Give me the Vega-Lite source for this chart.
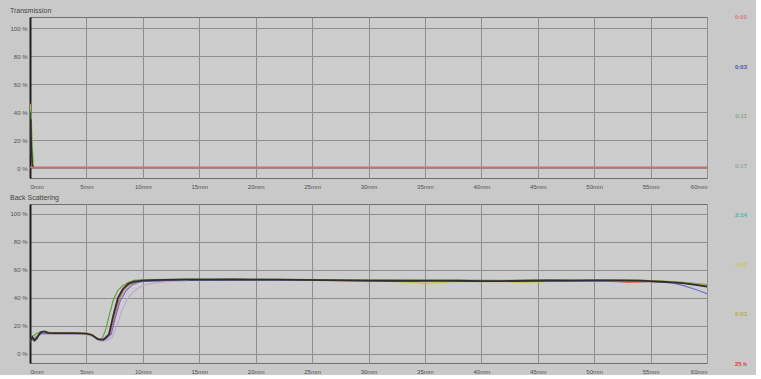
{
  "$schema": "https://vega.github.io/schema/vega-lite/v6.json",
  "background": "#c9c9c9",
  "padding": {"left": 9, "top": 6, "right": 0, "bottom": 0},
  "resolve": {"scale": {"color": "independent"}},
  "spacing": 18,
  "config": {
    "font": "Liberation Sans",
    "view": {"fill": "#cdcdcd", "stroke": "#707070", "strokeWidth": 1},
    "axis": {"labelFontSize": 6, "labelColor": "#505050", "ticks": false, "gridColor": "#8e8e8e", "gridWidth": 1, "domain": false, "title": null, "labelOverlap": false},
    "axisY": {"domain": true, "domainColor": "#1e1e1e", "domainWidth": 2, "labelPadding": 3},
    "axisX": {"labelPadding": 5},
    "title": {"fontSize": 7, "color": "#454545", "anchor": "start", "offset": 3, "fontWeight": "normal"}
  },
  "datasets": {
    "curves": [
      {"p":"T","s":"r","x":0,"y":0.6},{"p":"T","s":"r","x":10,"y":0.6},{"p":"T","s":"r","x":20,"y":0.6},{"p":"T","s":"r","x":30,"y":0.6},{"p":"T","s":"r","x":40,"y":0.6},{"p":"T","s":"r","x":50,"y":0.6},{"p":"T","s":"r","x":60,"y":0.6},
      {"p":"T","s":"y","x":0,"y":46},{"p":"T","s":"y","x":0.05,"y":38},{"p":"T","s":"y","x":0.12,"y":25},{"p":"T","s":"y","x":0.2,"y":10},{"p":"T","s":"y","x":0.3,"y":2},
      {"p":"T","s":"g","x":0,"y":30},{"p":"T","s":"g","x":0.08,"y":42},{"p":"T","s":"g","x":0.15,"y":20},{"p":"T","s":"g","x":0.25,"y":4},
      {"p":"T","s":"k","x":0,"y":40},{"p":"T","s":"k","x":0.04,"y":10},{"p":"T","s":"k","x":0.08,"y":35},{"p":"T","s":"k","x":0.12,"y":15},{"p":"T","s":"k","x":0.2,"y":3},{"p":"T","s":"k","x":0.3,"y":1},

      {"p":"B","s":"k","x":0,"y":9},{"p":"B","s":"k","x":0.2,"y":12},{"p":"B","s":"k","x":0.4,"y":9.5},{"p":"B","s":"k","x":0.6,"y":11},{"p":"B","s":"k","x":0.8,"y":14},{"p":"B","s":"k","x":1,"y":15.5},{"p":"B","s":"k","x":1.3,"y":16},{"p":"B","s":"k","x":1.6,"y":15},{"p":"B","s":"k","x":2,"y":14.8},{"p":"B","s":"k","x":3,"y":14.8},{"p":"B","s":"k","x":4,"y":14.8},{"p":"B","s":"k","x":5,"y":14.5},{"p":"B","s":"k","x":5.5,"y":13.5},{"p":"B","s":"k","x":6,"y":10.5},{"p":"B","s":"k","x":6.5,"y":10},{"p":"B","s":"k","x":7,"y":14},{"p":"B","s":"k","x":7.4,"y":28},{"p":"B","s":"k","x":7.8,"y":40},{"p":"B","s":"k","x":8.2,"y":46},{"p":"B","s":"k","x":8.7,"y":50},{"p":"B","s":"k","x":9.2,"y":51.5},{"p":"B","s":"k","x":9.6,"y":52},{"p":"B","s":"k","x":10,"y":52.3},{"p":"B","s":"k","x":11,"y":52.6},{"p":"B","s":"k","x":12,"y":52.8},{"p":"B","s":"k","x":14,"y":53},{"p":"B","s":"k","x":16,"y":53},{"p":"B","s":"k","x":18,"y":53.1},{"p":"B","s":"k","x":20,"y":53},{"p":"B","s":"k","x":22,"y":53},{"p":"B","s":"k","x":24,"y":52.8},{"p":"B","s":"k","x":26,"y":52.7},{"p":"B","s":"k","x":28,"y":52.5},{"p":"B","s":"k","x":30,"y":52.3},{"p":"B","s":"k","x":32,"y":52.2},{"p":"B","s":"k","x":34,"y":52.2},{"p":"B","s":"k","x":36,"y":52.3},{"p":"B","s":"k","x":38,"y":52.2},{"p":"B","s":"k","x":40,"y":52},{"p":"B","s":"k","x":42,"y":52},{"p":"B","s":"k","x":44,"y":52.2},{"p":"B","s":"k","x":46,"y":52.4},{"p":"B","s":"k","x":48,"y":52.3},{"p":"B","s":"k","x":50,"y":52.5},{"p":"B","s":"k","x":52,"y":52.5},{"p":"B","s":"k","x":54,"y":52.3},{"p":"B","s":"k","x":55,"y":52},{"p":"B","s":"k","x":56,"y":51.5},{"p":"B","s":"k","x":57,"y":51},{"p":"B","s":"k","x":58,"y":50.3},{"p":"B","s":"k","x":59,"y":49.3},{"p":"B","s":"k","x":60,"y":48},

      {"p":"B","s":"g","x":0,"y":10},{"p":"B","s":"g","x":0.3,"y":13},{"p":"B","s":"g","x":0.6,"y":14.5},{"p":"B","s":"g","x":1,"y":16},{"p":"B","s":"g","x":1.5,"y":15.5},{"p":"B","s":"g","x":2,"y":15},{"p":"B","s":"g","x":4,"y":15},{"p":"B","s":"g","x":5,"y":14.8},{"p":"B","s":"g","x":5.5,"y":13.5},{"p":"B","s":"g","x":6,"y":11},{"p":"B","s":"g","x":6.4,"y":11},{"p":"B","s":"g","x":6.7,"y":17},{"p":"B","s":"g","x":7,"y":27},{"p":"B","s":"g","x":7.4,"y":39},{"p":"B","s":"g","x":7.8,"y":45.5},{"p":"B","s":"g","x":8.2,"y":48.5},{"p":"B","s":"g","x":8.7,"y":51},{"p":"B","s":"g","x":9.2,"y":52.5},{"p":"B","s":"g","x":10,"y":53},{"p":"B","s":"g","x":12,"y":53.3},{"p":"B","s":"g","x":14,"y":53.5},{"p":"B","s":"g","x":18,"y":53.4},{"p":"B","s":"g","x":22,"y":53.2},{"p":"B","s":"g","x":26,"y":53},{"p":"B","s":"g","x":30,"y":52.8},{"p":"B","s":"g","x":34,"y":52.6},{"p":"B","s":"g","x":38,"y":52.6},{"p":"B","s":"g","x":42,"y":52.5},{"p":"B","s":"g","x":46,"y":52.8},{"p":"B","s":"g","x":50,"y":52.8},{"p":"B","s":"g","x":54,"y":52.6},{"p":"B","s":"g","x":56,"y":52},{"p":"B","s":"g","x":58,"y":51},{"p":"B","s":"g","x":60,"y":49.5},

      {"p":"B","s":"y","x":0,"y":9.5},{"p":"B","s":"y","x":0.5,"y":12},{"p":"B","s":"y","x":1,"y":15},{"p":"B","s":"y","x":2,"y":15.2},{"p":"B","s":"y","x":4,"y":15.2},{"p":"B","s":"y","x":5,"y":15},{"p":"B","s":"y","x":5.5,"y":14},{"p":"B","s":"y","x":6,"y":11},{"p":"B","s":"y","x":6.6,"y":10.5},{"p":"B","s":"y","x":7.1,"y":15},{"p":"B","s":"y","x":7.5,"y":29},{"p":"B","s":"y","x":7.9,"y":40},{"p":"B","s":"y","x":8.3,"y":46},{"p":"B","s":"y","x":8.8,"y":49.5},{"p":"B","s":"y","x":9.5,"y":51.5},{"p":"B","s":"y","x":10,"y":52},{"p":"B","s":"y","x":12,"y":52.5},{"p":"B","s":"y","x":16,"y":52.8},{"p":"B","s":"y","x":20,"y":52.8},{"p":"B","s":"y","x":24,"y":52.5},{"p":"B","s":"y","x":28,"y":52.2},{"p":"B","s":"y","x":32,"y":51.8},{"p":"B","s":"y","x":34,"y":51},{"p":"B","s":"y","x":35,"y":50.3},{"p":"B","s":"y","x":36,"y":50.8},{"p":"B","s":"y","x":38,"y":51.8},{"p":"B","s":"y","x":42,"y":51.5},{"p":"B","s":"y","x":44,"y":51.2},{"p":"B","s":"y","x":46,"y":51.8},{"p":"B","s":"y","x":50,"y":52.3},{"p":"B","s":"y","x":54,"y":52.5},{"p":"B","s":"y","x":56,"y":52},{"p":"B","s":"y","x":58,"y":50.8},{"p":"B","s":"y","x":60,"y":49},

      {"p":"B","s":"r","x":0,"y":9},{"p":"B","s":"r","x":0.5,"y":11},{"p":"B","s":"r","x":1,"y":14.5},{"p":"B","s":"r","x":2,"y":14.5},{"p":"B","s":"r","x":5,"y":14.3},{"p":"B","s":"r","x":5.6,"y":13},{"p":"B","s":"r","x":6.1,"y":10},{"p":"B","s":"r","x":6.6,"y":10},{"p":"B","s":"r","x":7.1,"y":14},{"p":"B","s":"r","x":7.5,"y":27},{"p":"B","s":"r","x":7.9,"y":39},{"p":"B","s":"r","x":8.3,"y":45.5},{"p":"B","s":"r","x":8.8,"y":49.5},{"p":"B","s":"r","x":9.5,"y":51.5},{"p":"B","s":"r","x":10,"y":52},{"p":"B","s":"r","x":14,"y":52.8},{"p":"B","s":"r","x":20,"y":53},{"p":"B","s":"r","x":26,"y":52.6},{"p":"B","s":"r","x":30,"y":52},{"p":"B","s":"r","x":34,"y":52},{"p":"B","s":"r","x":38,"y":52},{"p":"B","s":"r","x":42,"y":52},{"p":"B","s":"r","x":46,"y":52.2},{"p":"B","s":"r","x":50,"y":52.2},{"p":"B","s":"r","x":52,"y":51.5},{"p":"B","s":"r","x":53,"y":51},{"p":"B","s":"r","x":54,"y":51.2},{"p":"B","s":"r","x":55,"y":51.6},{"p":"B","s":"r","x":56,"y":51.4},{"p":"B","s":"r","x":58,"y":50.5},{"p":"B","s":"r","x":60,"y":48.5},

      {"p":"B","s":"b","x":0,"y":9},{"p":"B","s":"b","x":1,"y":14.5},{"p":"B","s":"b","x":2,"y":14.5},{"p":"B","s":"b","x":5,"y":14.3},{"p":"B","s":"b","x":5.6,"y":13},{"p":"B","s":"b","x":6.1,"y":10.5},{"p":"B","s":"b","x":6.7,"y":10.5},{"p":"B","s":"b","x":7.2,"y":14},{"p":"B","s":"b","x":7.6,"y":27},{"p":"B","s":"b","x":8,"y":38},{"p":"B","s":"b","x":8.5,"y":45},{"p":"B","s":"b","x":9,"y":49},{"p":"B","s":"b","x":9.6,"y":51},{"p":"B","s":"b","x":10,"y":51.8},{"p":"B","s":"b","x":14,"y":52.5},{"p":"B","s":"b","x":20,"y":52.6},{"p":"B","s":"b","x":30,"y":52.2},{"p":"B","s":"b","x":40,"y":51.8},{"p":"B","s":"b","x":50,"y":52},{"p":"B","s":"b","x":55,"y":51.8},{"p":"B","s":"b","x":56,"y":51.3},{"p":"B","s":"b","x":57,"y":50.5},{"p":"B","s":"b","x":58,"y":48.5},{"p":"B","s":"b","x":59,"y":46},{"p":"B","s":"b","x":60,"y":43},

      {"p":"B","s":"p","x":4,"y":14.5},{"p":"B","s":"p","x":5,"y":14},{"p":"B","s":"p","x":5.6,"y":12},{"p":"B","s":"p","x":6.2,"y":9},{"p":"B","s":"p","x":6.8,"y":9.5},{"p":"B","s":"p","x":7.3,"y":12},{"p":"B","s":"p","x":7.7,"y":20},{"p":"B","s":"p","x":8.1,"y":30},{"p":"B","s":"p","x":8.6,"y":39},{"p":"B","s":"p","x":9.1,"y":44},{"p":"B","s":"p","x":9.7,"y":47.5},{"p":"B","s":"p","x":10.3,"y":49.5},{"p":"B","s":"p","x":11,"y":50.5},{"p":"B","s":"p","x":12,"y":51.5},{"p":"B","s":"p","x":14,"y":52.3}
    ],
    "labels": [
      {"t":"0:00","i":1},{"t":"0:03","i":2},{"t":"0:11","i":3},{"t":"0:17","i":4},
      {"t":"2:14","i":5},{"t":"4:07","i":6},{"t":"6:03","i":7},{"t":"25 h","i":8}
    ]
  },
  "hconcat": [
    {
      "spacing": 3,
      "vconcat": [
        {
          "title": "Transmission",
          "width": 677,
          "height": 161,
          "data": {"name": "curves"},
          "transform": [{"filter": "datum.p == 'T'"}],
          "encoding": {
            "x": {"field": "x", "type": "quantitative", "scale": {"domain": [0, 60]}, "axis": {"values": [0,5,10,15,20,25,30,35,40,45,50,55,60], "labelExpr": "datum.value + 'mm'"}},
            "y": {"field": "y", "type": "quantitative", "scale": {"domain": [-7, 108]}, "axis": {"values": [0,20,40,60,80,100], "labelExpr": "datum.value + ' %'"}},
            "order": {"field": "x", "type": "quantitative"}
          },
          "layer": [
            {
              "transform": [{"filter": "datum.s != 'k'"}],
              "mark": {"type": "line", "strokeWidth": 1.6, "clip": true},
              "encoding": {
                "color": {"field": "s", "type": "nominal", "legend": null, "scale": {"domain": ["k","g","y","r","b","p"], "range": ["#2e2e2e","#6aa040","#c8c040","#d46a6a","#7070c8","#c0a8d0"]}}
              }
            },
            {
              "transform": [{"filter": "datum.s == 'k'"}],
              "mark": {"type": "line", "strokeWidth": 1.4, "color": "#2e2e2e", "clip": true},
              "encoding": {}
            }
          ]
        },
        {
          "title": "Back Scattering",
          "width": 677,
          "height": 159,
          "data": {"name": "curves"},
          "transform": [{"filter": "datum.p == 'B'"}],
          "encoding": {
            "x": {"field": "x", "type": "quantitative", "scale": {"domain": [0, 60]}, "axis": {"values": [0,5,10,15,20,25,30,35,40,45,50,55,60], "labelExpr": "datum.value + 'mm'"}},
            "y": {"field": "y", "type": "quantitative", "scale": {"domain": [-6.5, 107]}, "axis": {"values": [0,20,40,60,80,100], "labelExpr": "datum.value + ' %'"}},
            "order": {"field": "x", "type": "quantitative"}
          },
          "layer": [
            {
              "transform": [{"filter": "datum.s != 'k'"}],
              "mark": {"type": "line", "strokeWidth": 1.2, "clip": true},
              "encoding": {
                "color": {"field": "s", "type": "nominal", "legend": null, "scale": {"domain": ["k","g","y","r","b","p"], "range": ["#2e2e2e","#6aa040","#c8c040","#c86060","#7070c8","#c0a8d0"]}}
              }
            },
            {
              "transform": [{"filter": "datum.s == 'k'"}],
              "mark": {"type": "line", "strokeWidth": 1.8, "color": "#2e2e2e", "clip": true},
              "encoding": {}
            }
          ]
        }
      ]
    },
    {
      "width": 30,
      "height": 347,
      "view": {"fill": null, "stroke": null},
      "data": {"name": "labels"},
      "mark": {"type": "text", "fontSize": 6, "fontWeight": "bold"},
      "encoding": {
        "y": {"field": "i", "type": "ordinal", "scale": {"type": "point", "padding": 0}, "axis": null},
        "text": {"field": "t"},
        "color": {"field": "t", "type": "nominal", "legend": null, "scale": {"domain": ["0:00","0:03","0:11","0:17","2:14","4:07","6:03","25 h"], "range": ["#d88080","#5050b8","#88a888","#98a898","#40b8a0","#c8c850","#b8b048","#e03838"]}}
      }
    }
  ]
}
